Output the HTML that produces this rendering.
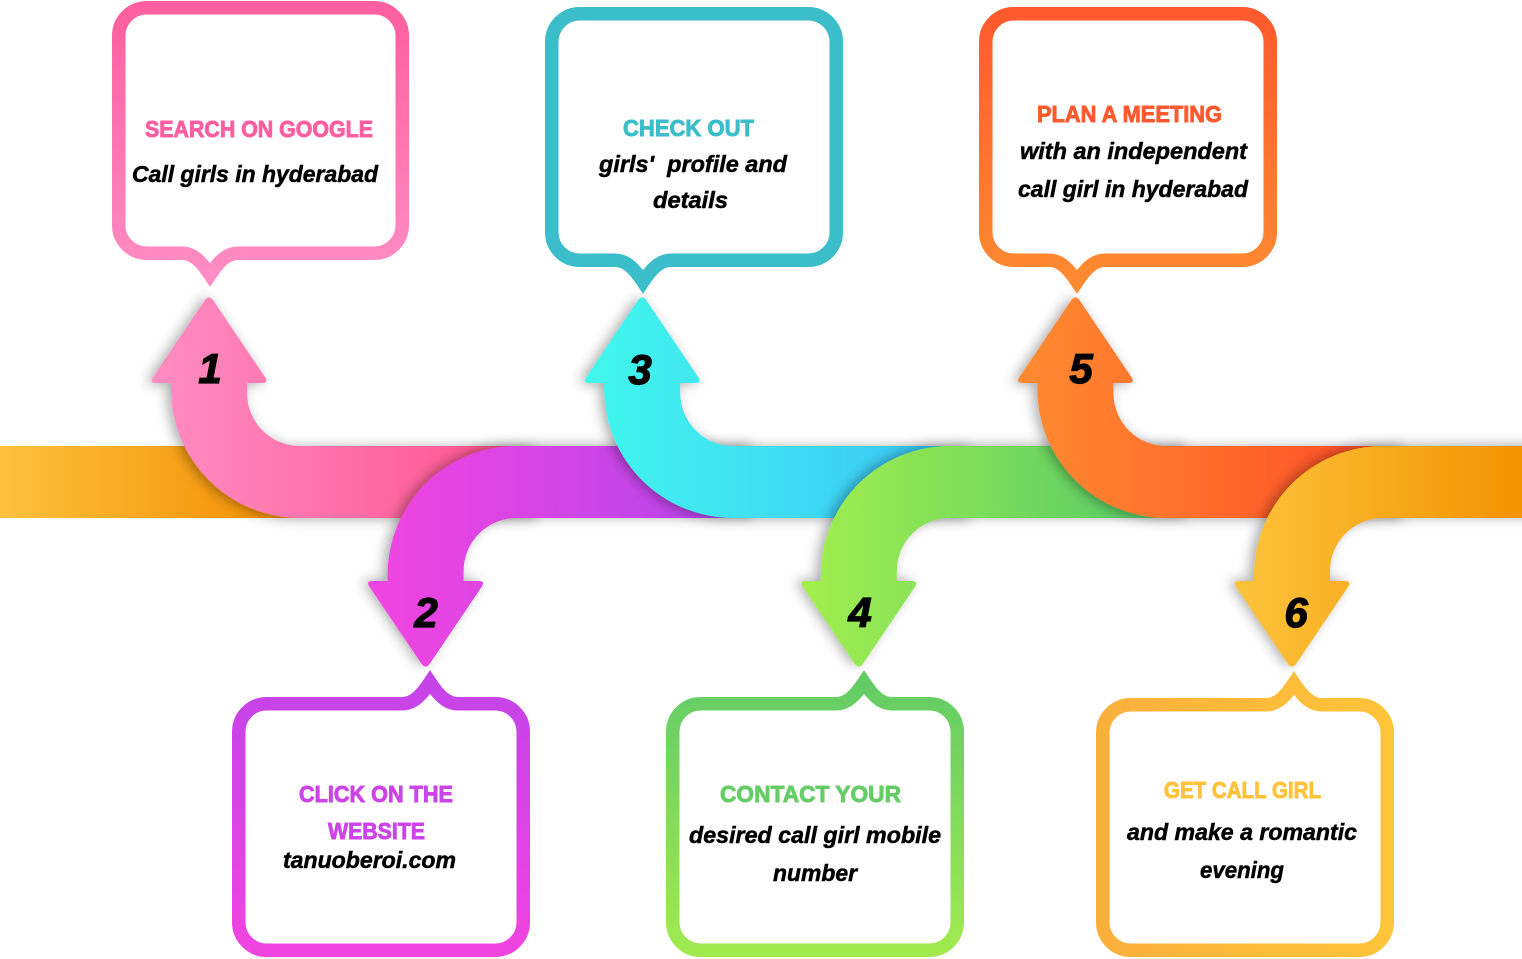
<!DOCTYPE html>
<html>
<head>
<meta charset="utf-8">
<style>
  html,body{margin:0;padding:0;background:#fff;}
  svg{display:block;}
  .hd{font-family:"Liberation Sans",Arial,sans-serif;font-weight:bold;font-size:23px;stroke-width:0.9px;}
  .bd{font-family:"Liberation Sans",Arial,sans-serif;font-weight:bold;font-style:italic;font-size:23px;fill:#000;stroke:#000;stroke-width:0.5px;}
  .num{font-family:"Liberation Sans",Arial,sans-serif;font-weight:bold;font-style:italic;font-size:42px;fill:#000;stroke:#000;stroke-width:1.2px;text-anchor:middle;}
</style>
</head>
<body>
<svg width="1522" height="959" viewBox="0 0 1522 959" xmlns="http://www.w3.org/2000/svg">
  <defs>
    <filter id="sh" x="-30%" y="-30%" width="160%" height="160%">
      <feDropShadow dx="-4" dy="1" stdDeviation="6" flood-color="#000" flood-opacity="0.33"/>
    </filter>
    <linearGradient id="bg0" x1="0" y1="0" x2="300" y2="0" gradientUnits="userSpaceOnUse">
      <stop offset="0" stop-color="#fdc13d"/><stop offset="1" stop-color="#f28c00"/>
    </linearGradient>
    <linearGradient id="a1" x1="-60" y1="0" x2="300" y2="0" gradientUnits="userSpaceOnUse">
      <stop offset="0" stop-color="#ff8dc3"/><stop offset="1" stop-color="#ff5590"/>
    </linearGradient>
    <linearGradient id="a2" x1="-60" y1="0" x2="300" y2="0" gradientUnits="userSpaceOnUse">
      <stop offset="0" stop-color="#f244e0"/><stop offset="1" stop-color="#b645ea"/>
    </linearGradient>
    <linearGradient id="a3" x1="-60" y1="0" x2="300" y2="0" gradientUnits="userSpaceOnUse">
      <stop offset="0" stop-color="#42f8ec"/><stop offset="1" stop-color="#3cc6f8"/>
    </linearGradient>
    <linearGradient id="a4" x1="-60" y1="0" x2="300" y2="0" gradientUnits="userSpaceOnUse">
      <stop offset="0" stop-color="#a3ef4e"/><stop offset="1" stop-color="#56ca68"/>
    </linearGradient>
    <linearGradient id="a5" x1="-60" y1="0" x2="300" y2="0" gradientUnits="userSpaceOnUse">
      <stop offset="0" stop-color="#ff8c30"/><stop offset="1" stop-color="#ff4f28"/>
    </linearGradient>
    <linearGradient id="a6" x1="-60" y1="0" x2="230" y2="0" gradientUnits="userSpaceOnUse">
      <stop offset="0" stop-color="#fdc43d"/><stop offset="1" stop-color="#f29300"/>
    </linearGradient>

    <linearGradient id="b1" x1="0" y1="0" x2="0" y2="1">
      <stop offset="0" stop-color="#ff5f9f"/><stop offset="1" stop-color="#ff8cc4"/>
    </linearGradient>
    <linearGradient id="b3" x1="0" y1="0" x2="0" y2="1">
      <stop offset="0" stop-color="#3bbdca"/><stop offset="1" stop-color="#3bbdca"/>
    </linearGradient>
    <linearGradient id="b5" x1="0" y1="0" x2="0" y2="1">
      <stop offset="0" stop-color="#ff5a2e"/><stop offset="1" stop-color="#ff8a30"/>
    </linearGradient>
    <linearGradient id="b2" x1="0" y1="0" x2="0" y2="1">
      <stop offset="0" stop-color="#c444e8"/><stop offset="1" stop-color="#f044e0"/>
    </linearGradient>
    <linearGradient id="b4" x1="0" y1="0" x2="0" y2="1">
      <stop offset="0" stop-color="#64cc66"/><stop offset="1" stop-color="#a0ea50"/>
    </linearGradient>
    <linearGradient id="b6" x1="0" y1="0" x2="1" y2="0">
      <stop offset="0" stop-color="#fbb03c"/><stop offset="1" stop-color="#fec43a"/>
    </linearGradient>

    <path id="up" d="M -38 383 L -53 383 Q -60 383 -56.1 377.2 L -4.5 300.7 Q 0 294 4.5 300.7 L 56.1 377.2 Q 60 383 53 383 L 38 383 L 38 393 A 53 53 0 0 0 91 446 L 330 446 L 330 518 L 91 518 A 129 129 0 0 1 -38 389 Z"/>
  </defs>

  <!-- background band left -->
  <rect x="0" y="446" width="310" height="72" fill="url(#bg0)"/>

  <!-- arrows -->
  <g transform="translate(209,0)" filter="url(#sh)"><use href="#up" fill="url(#a1)"/></g>
  <g transform="translate(425.6,964) scale(1,-1)" filter="url(#sh)"><use href="#up" fill="url(#a2)"/></g>
  <g transform="translate(642.2,0)" filter="url(#sh)"><use href="#up" fill="url(#a3)"/></g>
  <g transform="translate(858.8,964) scale(1,-1)" filter="url(#sh)"><use href="#up" fill="url(#a4)"/></g>
  <g transform="translate(1075.4,0)" filter="url(#sh)"><use href="#up" fill="url(#a5)"/></g>
  <g transform="translate(1292,964) scale(1,-1)" filter="url(#sh)"><use href="#up" fill="url(#a6)"/></g>

  <!-- numbers -->
  <text class="num" x="210" y="383">1</text>
  <text class="num" x="426" y="627">2</text>
  <text class="num" x="640" y="384">3</text>
  <text class="num" x="860" y="627">4</text>
  <text class="num" x="1081" y="383">5</text>
  <text class="num" x="1296" y="627">6</text>

  <!-- top boxes -->
  <path fill="#fff" stroke="url(#b1)" stroke-width="13.5" stroke-miterlimit="10"
    d="M 146.75 7.75 H 374.25 A 28 28 0 0 1 402.25 35.75 V 225.25 A 28 28 0 0 1 374.25 253.25 H 238 C 226 253.25 218 262.75 210 274.75 C 202 262.75 194 253.25 182 253.25 H 146.75 A 28 28 0 0 1 118.75 225.25 V 35.75 A 28 28 0 0 1 146.75 7.75 Z"/>
  <path fill="#fff" stroke="url(#b3)" stroke-width="13.5" stroke-miterlimit="10"
    d="M 579.75 13.75 H 808.25 A 28 28 0 0 1 836.25 41.75 V 232.25 A 28 28 0 0 1 808.25 260.25 H 671 C 659 260.25 651 269.75 643 281.75 C 635 269.75 627 260.25 615 260.25 H 579.75 A 28 28 0 0 1 551.75 232.25 V 41.75 A 28 28 0 0 1 579.75 13.75 Z"/>
  <path fill="#fff" stroke="url(#b5)" stroke-width="13.5" stroke-miterlimit="10"
    d="M 1013.75 13.75 H 1242.25 A 28 28 0 0 1 1270.25 41.75 V 232.25 A 28 28 0 0 1 1242.25 260.25 H 1105 C 1093 260.25 1085 269.75 1077 281.75 C 1069 269.75 1061 260.25 1049 260.25 H 1013.75 A 28 28 0 0 1 985.75 232.25 V 41.75 A 28 28 0 0 1 1013.75 13.75 Z"/>

  <!-- bottom boxes -->
  <path fill="#fff" stroke="url(#b2)" stroke-width="13.5" stroke-miterlimit="10"
    d="M 266.75 703.75 H 402 C 414 703.75 422 694.25 430 682.25 C 438 694.25 446 703.75 458 703.75 H 495.25 A 28 28 0 0 1 523.25 731.75 V 922.25 A 28 28 0 0 1 495.25 950.25 H 266.75 A 28 28 0 0 1 238.75 922.25 V 731.75 A 28 28 0 0 1 266.75 703.75 Z"/>
  <path fill="#fff" stroke="url(#b4)" stroke-width="13.5" stroke-miterlimit="10"
    d="M 700.75 703.75 H 836 C 848 703.75 856 694.25 864 682.25 C 872 694.25 880 703.75 892 703.75 H 929.25 A 28 28 0 0 1 957.25 731.75 V 922.25 A 28 28 0 0 1 929.25 950.25 H 700.75 A 28 28 0 0 1 672.75 922.25 V 731.75 A 28 28 0 0 1 700.75 703.75 Z"/>
  <path fill="#fff" stroke="url(#b6)" stroke-width="13.5" stroke-miterlimit="10"
    d="M 1130.75 704.75 H 1266 C 1278 704.75 1286 695.25 1294 683.25 C 1302 695.25 1310 704.75 1322 704.75 H 1359.25 A 28 28 0 0 1 1387.25 732.75 V 922.25 A 28 28 0 0 1 1359.25 950.25 H 1130.75 A 28 28 0 0 1 1102.75 922.25 V 732.75 A 28 28 0 0 1 1130.75 704.75 Z"/>

  <!-- texts box 1 -->
  <text class="hd" fill="#ff5fa0" stroke="#ff5fa0" x="145" y="137" textLength="228" lengthAdjust="spacingAndGlyphs">SEARCH ON GOOGLE</text>
  <text class="bd" x="132" y="182" textLength="246" lengthAdjust="spacingAndGlyphs">Call girls in hyderabad</text>

  <!-- box 3 -->
  <text class="hd" fill="#3bbdca" stroke="#3bbdca" x="623" y="136" textLength="131" lengthAdjust="spacingAndGlyphs">CHECK OUT</text>
  <text class="bd" x="599" y="172" textLength="188" lengthAdjust="spacingAndGlyphs" xml:space="preserve">girls'  profile and</text>
  <text class="bd" x="653" y="208" textLength="75" lengthAdjust="spacingAndGlyphs">details</text>

  <!-- box 5 -->
  <text class="hd" fill="#ff5a30" stroke="#ff5a30" x="1037" y="122" textLength="185" lengthAdjust="spacingAndGlyphs">PLAN A MEETING</text>
  <text class="bd" x="1020" y="159" textLength="227" lengthAdjust="spacingAndGlyphs">with an independent</text>
  <text class="bd" x="1018" y="197" textLength="230" lengthAdjust="spacingAndGlyphs">call girl in hyderabad</text>

  <!-- box 2 -->
  <text class="hd" fill="#cc44e8" stroke="#cc44e8" x="299" y="802" textLength="154" lengthAdjust="spacingAndGlyphs">CLICK ON THE</text>
  <text class="hd" fill="#cc44e8" stroke="#cc44e8" x="328" y="839" textLength="97" lengthAdjust="spacingAndGlyphs">WEBSITE</text>
  <text class="bd" x="283" y="868" textLength="173" lengthAdjust="spacingAndGlyphs">tanuoberoi.com</text>

  <!-- box 4 -->
  <text class="hd" fill="#66cc66" stroke="#66cc66" x="720" y="802" textLength="181" lengthAdjust="spacingAndGlyphs">CONTACT YOUR</text>
  <text class="bd" x="689" y="843" textLength="252" lengthAdjust="spacingAndGlyphs">desired call girl mobile</text>
  <text class="bd" x="773" y="881" textLength="84" lengthAdjust="spacingAndGlyphs">number</text>

  <!-- box 6 -->
  <text class="hd" fill="#fec33a" stroke="#fec33a" x="1164" y="798" textLength="157" lengthAdjust="spacingAndGlyphs">GET CALL GIRL</text>
  <text class="bd" x="1127" y="840" textLength="230" lengthAdjust="spacingAndGlyphs">and make a romantic</text>
  <text class="bd" x="1200" y="878" textLength="84" lengthAdjust="spacingAndGlyphs">evening</text>
</svg>
</body>
</html>
